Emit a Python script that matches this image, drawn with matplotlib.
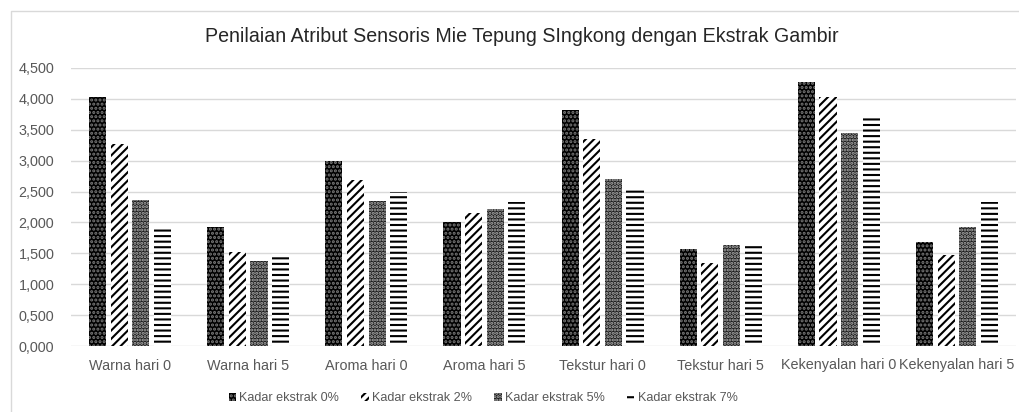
import matplotlib
matplotlib.use("Agg")
import matplotlib.pyplot as plt
import numpy as np
from matplotlib.lines import Line2D
from matplotlib.ticker import FuncFormatter

plt.rcParams['font.family'] = ['Liberation Sans', 'DejaVu Sans']
plt.rcParams['hatch.linewidth'] = 1.5

categories = ["Warna hari 0", "Warna hari 5", "Aroma hari 0", "Aroma hari 5",
              "Tekstur hari 0", "Tekstur hari 5", "Kekenyalan hari 0", "Kekenyalan hari 5"]
series_names = ["Kadar ekstrak 0%", "Kadar ekstrak 2%", "Kadar ekstrak 5%", "Kadar ekstrak 7%"]
kadar_0 = [4.03, 1.92, 3.00, 2.00, 3.82, 1.57, 4.28, 1.69]
kadar_2 = [3.27, 1.52, 2.69, 2.15, 3.35, 1.34, 4.03, 1.48]
kadar_5 = [2.36, 1.37, 2.35, 2.21, 2.71, 1.64, 3.44, 1.92]
kadar_7 = [1.90, 1.49, 2.49, 2.33, 2.55, 1.65, 3.73, 2.33]

series = [kadar_0, kadar_2, kadar_5, kadar_7]
# face, hatch colour, hatch
styles = [("black", "#7a7a7a", "...."),
          ("white", "black", "////"),
          ("#1c1c1c", "#b0b0b0", "....."),
          ("white", "black", "---")]

W, H = 1019, 412
fig = plt.figure(figsize=(W / 100, H / 100), dpi=100)
ax = fig.add_axes([71 / W, 1 - 346 / H, (1016 - 71) / W, (346 - 68) / H])

x = np.arange(len(categories))
step = 0.183
width = 0.145
handles = []
for k, (vals, (fc, hc, hatch)) in enumerate(zip(series, styles)):
    b = ax.bar(x + (k - 1.5) * step, vals, width, facecolor=fc, edgecolor=hc,
               hatch=hatch, linewidth=0, label=series_names[k], zorder=3)
    handles.append(b)

ax.set_xlim(-0.5, len(categories) - 0.5)
ax.set_ylim(0, 4.5)
ax.set_yticks(np.arange(0, 4.51, 0.5))
ax.yaxis.set_major_formatter(FuncFormatter(lambda v, p: f"{v:.3f}".replace(".", ",")))
ax.set_xticks(x)
ax.set_xticklabels(categories)
ax.tick_params(axis="both", length=0, labelsize=10.4, colors="#595959")
ax.tick_params(axis="x", pad=9)
ax.tick_params(axis="y", pad=12)
ax.grid(axis="y", color="#d9d9d9", linewidth=1, zorder=0)
for s in ax.spines.values():
    s.set_visible(False)

fig.text(522 / W, 1 - 37 / H, "Penilaian Atribut Sensoris Mie Tepung SIngkong dengan Ekstrak Gambir",
         ha="center", va="center", fontsize=14.1, color="#262626")

leg = fig.legend(handles=handles, loc="center", bbox_to_anchor=(483 / W, 1 - 398 / H),
                 ncol=4, frameon=False, fontsize=9.1, handlelength=0.6, handleheight=0.6,
                 handletextpad=0.25, columnspacing=1.75)
for t in leg.get_texts():
    t.set_color("#595959")

# chart area border
fig.add_artist(Line2D([11 / W, 11 / W, 1], [0, 1 - 11 / H, 1 - 11 / H],
                      color="#d9d9d9", linewidth=1, transform=fig.transFigure))

fig.savefig("out.png", dpi=100)
